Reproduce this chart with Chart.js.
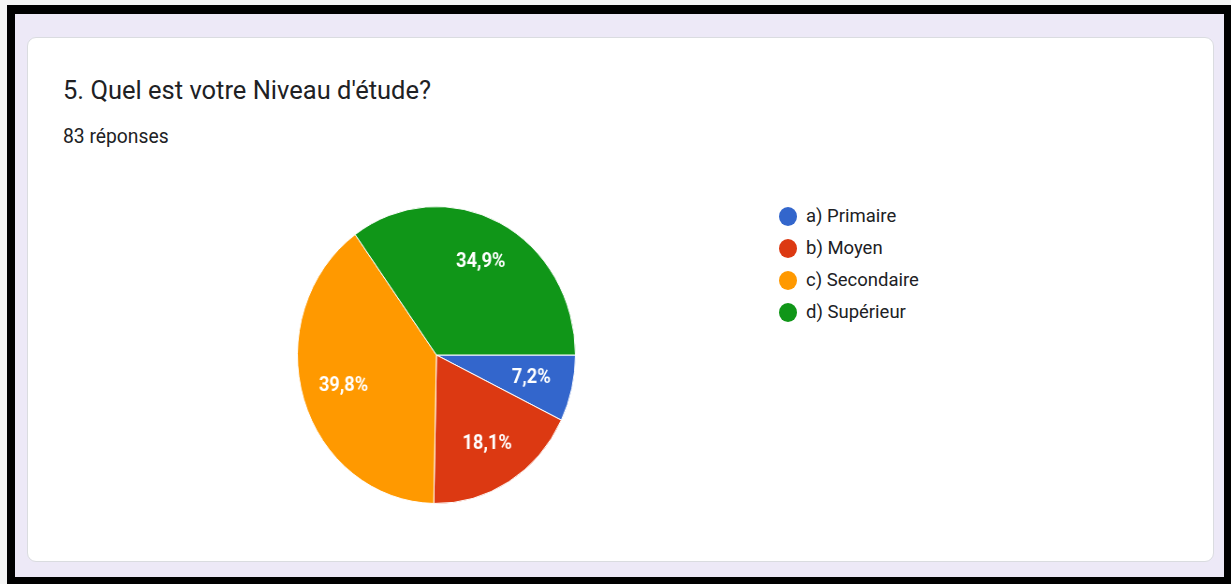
<!DOCTYPE html>
<html>
<head>
<meta charset="utf-8">
<script src="https://cdn.jsdelivr.net/npm/chart.js@4"></script>
<style>
  body { margin: 0; width: 1231px; height: 584px; background: #f4f4f4; position: relative; overflow: hidden; font-family: Roboto, Arial, sans-serif; color: #202124; }
  .frame { position: absolute; left: 7px; top: 5px; width: 1224px; height: 579px; background: #000; }
  .inner { position: absolute; left: 15px; top: 14px; width: 1209px; height: 563px; background: #ede9f7; }
  .card { position: absolute; left: 27px; top: 37px; width: 1185px; height: 523px; background: #fff; border: 1px solid #dadce0; border-radius: 9px; }
  .title { position: absolute; left: 63px; top: 78px; font-size: 25.5px; line-height: 25.5px; white-space: nowrap; }
  .count { position: absolute; left: 63px; top: 127px; font-size: 19.3px; line-height: 19px; white-space: nowrap; }
  .pie { position: absolute; left: 296px; top: 205px; width: 300px; height: 300px; transform: scaleX(0.936); transform-origin: 0 0; }
  .legend { position: absolute; left: 779px; top: 200px; }
  .legend div { display: flex; align-items: center; height: 32px; font-size: 18.5px; white-space: nowrap; }
  .legend span { display: inline-block; width: 18px; height: 19px; border-radius: 50%; margin-right: 9px; }
</style>
</head>
<body>
<div class="frame"></div>
<div class="inner"></div>
<div class="card"></div>
<div class="title">5. Quel est votre Niveau d'étude?</div>
<div class="count">83 réponses</div>
<div class="pie"><canvas id="myChart" width="300" height="300"></canvas></div>
<div class="legend" id="legend"></div>
<script>
// niveaux et nombre de réponses (83 au total)
const labels = ['a) Primaire', 'b) Moyen', 'c) Secondaire', 'd) Supérieur']
const values = [6, 15, 33, 29]
const colors = ['#3366cc', '#dc3912', '#ff9900', '#109618']

const total = values.reduce((a, b) => a + b, 0)

// pourcentages écrits dans les parts
const pctLabels = {
    id: 'pctLabels',
    afterDatasetsDraw(chart) {
        const ctx = chart.ctx
        chart.getDatasetMeta(0).data.forEach((arc, i) => {
            const mid = (arc.startAngle + arc.endAngle) / 2
            const r = arc.outerRadius * 0.7
            const x = arc.x + Math.cos(mid) * r
            const y = arc.y + Math.sin(mid) * r
            const txt = (values[i] / total * 100).toFixed(1).replace('.', ',') + '%'
            ctx.save()
            ctx.fillStyle = '#fff'
            ctx.font = 'bold 19.5px Roboto'
            ctx.textAlign = 'center'
            ctx.textBaseline = 'middle'
            ctx.fillText(txt, x, y)
            ctx.restore()
        })
    }
}

let ctx = document.getElementById('myChart').getContext('2d')
let myChart = new Chart(ctx, {
    type: 'pie',
    data: {
        labels: labels,
        datasets: [{
            data: values,
            backgroundColor: colors,
            borderColor: '#fff',
            borderWidth: 1
        }]
    },
    options: {
        responsive: false,
        animation: false,
        rotation: 90, // starter à 3 heures
        layout: { padding: 1 },
        plugins: {
            legend: { display: false },
            tooltip: { enabled: false }
        }
    },
    plugins: [pctLabels]
})

// légende à droite
const legend = document.getElementById('legend')
labels.forEach((l, i) => {
    const row = document.createElement('div')
    const dot = document.createElement('span')
    dot.style.background = colors[i]
    row.appendChild(dot)
    row.appendChild(document.createTextNode(l))
    legend.appendChild(row)
})
</script>
</body>
</html>
